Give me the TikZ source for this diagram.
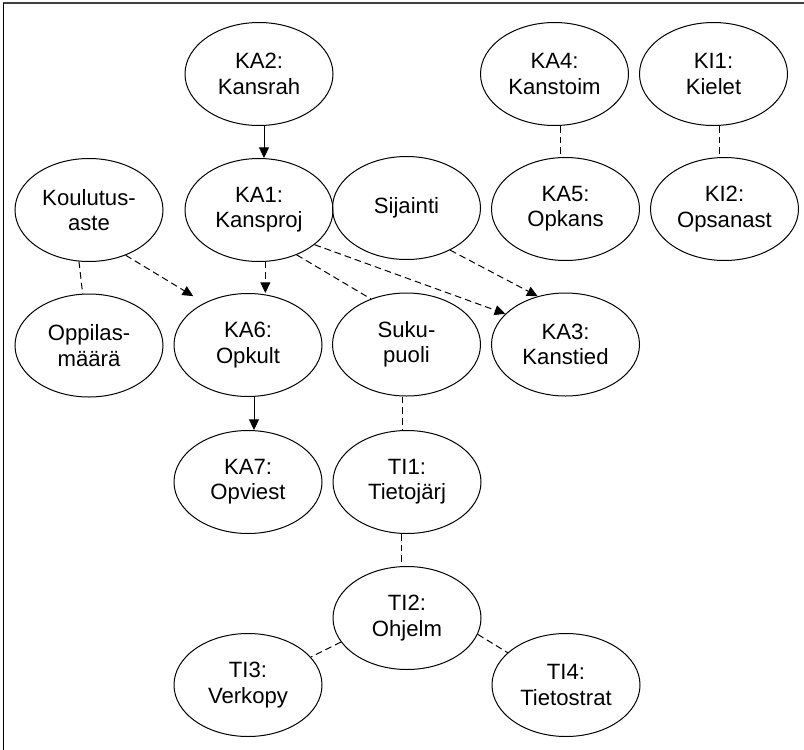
\documentclass[tikz,border=0pt]{standalone}
\usepackage{fontspec}
\setmainfont{Liberation Sans}
\usetikzlibrary{arrows.meta,shapes.geometric}
\begin{document}
\begin{tikzpicture}[x=0.75pt,y=-0.75pt,
  var/.style={draw, line width=0.75pt, ellipse, minimum width=111pt,
    minimum height=77.25pt, inner sep=0pt, align=center,
    font=\fontsize{16.6pt}{19pt}\selectfont},
  link/.style={line width=0.75pt, dash pattern=on 5pt off 3pt},
  dep/.style={line width=0.75pt, -{Triangle[length=8pt,width=7.5pt]}},
  ddep/.style={dep, dash pattern=on 5pt off 3pt}]
\useasboundingbox (0,0) rectangle (804,750);

% frame
\draw[line width=1.2pt, black!75] (3.3,2.7) -- (804,2.7);
\draw[line width=0.9pt, black] (3.3,2.7) -- (3.3,750);

% variables
\node[var] (ka2)  at (259,74)    {KA2:\\Kansrah};
\node[var] (ka4)  at (554.5,74)  {KA4:\\Kanstoim};
\node[var] (ki1)  at (713.5,74)  {KI1:\\Kielet};
\node[var] (koul) at (89,210)    {Koulutus-\\aste};
\node[var] (ka1)  at (259,210)   {KA1:\\Kansproj};
\node[var] (sij)  at (406.5,208) {Sijainti};
\node[var] (ka5)  at (565.5,209) {KA5:\\Opkans};
\node[var] (ki2)  at (724.5,209) {KI2:\\Opsanast};
\node[var] (opp)  at (89,345.5)  {Oppilas-\\määrä};
\node[var] (ka6)  at (248,345)   {KA6:\\Opkult};
\node[var] (suku) at (406.5,344.5) {Suku-\\puoli};
\node[var] (ka3)  at (565.5,344.5) {KA3:\\Kanstied};
\node[var] (ka7)  at (248,482)   {KA7:\\Opviest};
\node[var] (ti1)  at (407,482)   {TI1:\\Tietojärj};
\node[var] (ti2)  at (407,618)   {TI2:\\Ohjelm};
\node[var] (ti3)  at (248,685)   {TI3:\\Verkopy};
\node[var] (ti4)  at (566,685)   {TI4:\\Tietostrat};

% directed dependencies
\draw[dep] ([xshift=3.75pt]ka2.south) -- ([xshift=3.75pt]ka1.north);
\draw[dep] ([xshift=4.5pt]ka6.south) -- ([xshift=4.5pt]ka7.north);
\draw[ddep] (ka1.-83) -- (ka1.-83 |- ka6.north);
\draw[ddep, shorten >=9.75pt] (koul.-51) -- (ka6.136);
\draw[ddep] (ka1.-32) -- (ka3.153);
\draw[ddep] (sij.-44) -- (ka3.120);

% undirected links
\draw[link] (koul.-101) -- (opp.97.7);
\draw[link] (ka1.-50) -- (suku.128);
\draw[link] ([xshift=4.125pt]ka4.south) -- ([xshift=-4.125pt]ka5.north);
\draw[link] ([xshift=4.125pt]ki1.south) -- ([xshift=-4.125pt]ki2.north);
\draw[link] ([xshift=-3.375pt]suku.south) -- ([xshift=-3.75pt]ti1.north);
\draw[link] ([xshift=-4.5pt]ti1.south) -- ([xshift=-4.5pt]ti2.north);
\draw[link] (ti2.200) -- (ti3.24.3);
\draw[link] (ti2.-13) -- (ti4.151.6);
\end{tikzpicture}
\end{document}
